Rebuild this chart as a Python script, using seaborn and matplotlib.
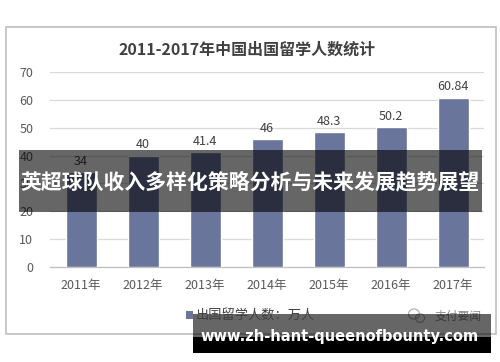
import matplotlib
matplotlib.use("Agg")
import matplotlib.pyplot as plt
import seaborn as sns
import pandas as pd
from matplotlib.patches import Rectangle, Patch, Ellipse

years = ["2011年", "2012年", "2013年", "2014年", "2015年", "2016年", "2017年"]
values = [34, 40, 41.4, 46, 48.3, 50.2, 60.84]
value_labels = ["34", "40", "41.4", "46", "48.3", "50.2", "60.84"]
title = "2011-2017年中国出国留学人数统计"
legend_label = "出国留学人数：万人"
banner_text = "英超球队收入多样化策略分析与未来发展趋势展望"
site_text = "www.zh-hant-queenofbounty.com"
source_text = "支付要闻"

sns.set_theme(style="white")
CJK = ["Noto Sans CJK SC", "DejaVu Sans"]
plt.rcParams["font.family"] = CJK

W, H = 500, 362
def fx(x): return x / W
def fy(y): return 1 - y / H

fig = plt.figure(figsize=(5, 3.62), dpi=100)
fig.patch.set_facecolor("white")
ax = fig.add_axes([fx(50), fy(267), fx(484) - fx(50), fy(72) - fy(267)])

df = pd.DataFrame({"year": years, "value": values})
sns.barplot(data=df, x="year", y="value", color="#69759B", saturation=1,
            width=0.5, ax=ax, zorder=3)
ax.set_ylim(0, 70)
ax.set_yticks(range(0, 71, 10))
ax.set_xlim(-0.5, len(years) - 0.5)
ax.yaxis.grid(True, color="#D9D9D9", linewidth=0.9, zorder=0)
ax.set_axisbelow(True)
for s in ["left", "right", "top"]:
    ax.spines[s].set_visible(False)
ax.spines["bottom"].set_color("#BFBFBF")
ax.spines["bottom"].set_linewidth(0.9)
ax.set_xlabel("")
ax.set_ylabel("")
ax.tick_params(axis="both", length=0, labelsize=9, colors="#595959")
ax.tick_params(axis="y", pad=12)
ax.tick_params(axis="x", pad=9)
ax.bar_label(ax.containers[0], labels=value_labels, padding=3, fontsize=9,
             color="#404040")

# title
fig.text(fx(247), fy(50), title, ha="center", va="center", fontsize=11.5,
         fontweight="bold", color="#404040")

# outer frame
fig.add_artist(Rectangle((fx(6), fy(334)), fx(496) - fx(6), fy(27) - fy(334),
                         transform=fig.transFigure, fill=False,
                         edgecolor="#BFBFBF", linewidth=1.2, zorder=1))

# legend
leg = fig.legend(handles=[Patch(facecolor="#69759B", edgecolor="none")],
                 labels=[legend_label], loc="center left",
                 bbox_to_anchor=(fx(186), fy(316)), frameon=False,
                 handlelength=0.55, handleheight=0.55, handletextpad=0.2,
                 fontsize=9.5, borderpad=0, borderaxespad=0)
for t in leg.get_texts():
    t.set_color("#404040")

# source watermark
fig.add_artist(Ellipse((fx(414), fy(314)), 0.022, 0.028, transform=fig.transFigure,
                       fill=False, edgecolor="#AAAAAA", linewidth=0.8, zorder=2))
fig.add_artist(Ellipse((fx(420), fy(318)), 0.018, 0.024, transform=fig.transFigure,
                       fill=False, edgecolor="#AAAAAA", linewidth=0.8, zorder=2))
fig.text(fx(458), fy(316), source_text, ha="center", va="center", fontsize=8.5,
         color="#8C8C8C")

# banner overlay
fig.add_artist(Rectangle((fx(19), fy(212)), fx(482) - fx(19), fy(150) - fy(212),
                         transform=fig.transFigure, facecolor="black", alpha=0.6,
                         edgecolor="none", zorder=5))
fig.text(fx(250), fy(182), banner_text, ha="center", va="center", fontsize=15,
         fontweight="bold", color="white", zorder=6)

# site watermark
fig.add_artist(Rectangle((fx(193), fy(337)), fx(491) - fx(193), fy(314) - fy(337),
                         transform=fig.transFigure, facecolor="black", alpha=0.6,
                         edgecolor="none", zorder=5))
fig.add_artist(Rectangle((fx(193), fy(353)), fx(491) - fx(193), fy(337) - fy(353),
                         transform=fig.transFigure, facecolor="black",
                         edgecolor="none", zorder=5))
fig.text(fx(340), fy(337), site_text, ha="center", va="center", fontsize=10.5,
         fontweight="bold", color="white", family=["DejaVu Sans"], zorder=6)

fig.savefig("out.png", dpi=100)
